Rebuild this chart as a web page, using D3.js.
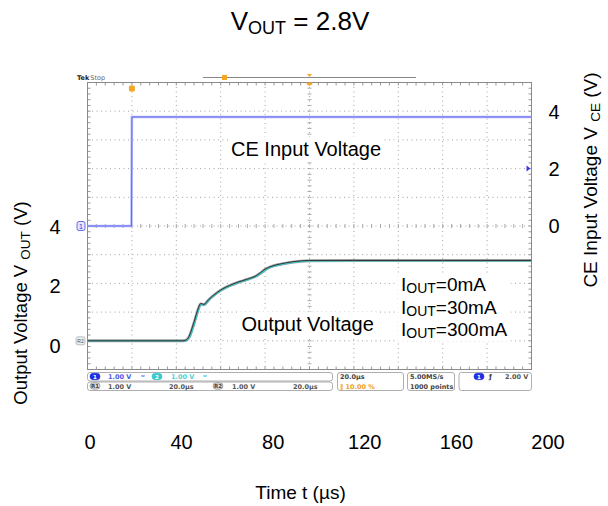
<!DOCTYPE html>
<html>
<head>
<meta charset="utf-8">
<script src="https://cdn.jsdelivr.net/npm/d3@7"></script>
<style>
    body { margin: 0; background: #fff; }
    svg { display: block; }
</style>
</head>
<body>
<svg id="chart" width="608" height="506"></svg>
<script>
// tick labels
const timeTicks = [0, 40, 80, 120, 160, 200];
const outTicks = [0, 2, 4];
const ceTicks = [0, 2, 4];

// CE input voltage trace (us, V)
const ceTime = [0, 19.8, 20, 200];
const ceVolt = [0, 0, 3.8, 3.8];

// output voltage traces (us, V)
const outTime = [0, 43, 44, 45, 46, 47, 48, 49, 50, 51, 52.5, 54.5, 57, 60, 64, 68, 72, 76, 78, 80, 83, 87, 92, 100, 120, 160, 200];
const out0mA = [0, 0, 0.02, 0.06, 0.2, 0.42, 0.66, 0.92, 1.16, 1.3, 1.27, 1.43, 1.6, 1.77, 1.93, 2.05, 2.15, 2.27, 2.38, 2.5, 2.6, 2.68, 2.75, 2.8, 2.8, 2.8, 2.8];
const out30mA = [0, 0, 0.01, 0.05, 0.17, 0.38, 0.62, 0.88, 1.13, 1.28, 1.26, 1.42, 1.59, 1.76, 1.92, 2.04, 2.14, 2.26, 2.36, 2.48, 2.59, 2.67, 2.74, 2.79, 2.8, 2.8, 2.8];
const out300mA = [0, 0, 0, 0.03, 0.13, 0.32, 0.56, 0.82, 1.08, 1.25, 1.25, 1.41, 1.58, 1.75, 1.91, 2.03, 2.13, 2.25, 2.34, 2.46, 2.58, 2.66, 2.73, 2.78, 2.79, 2.79, 2.79];

const legendLabels = ["=0mA", "=30mA", "=300mA"];

const FONT = "'Liberation Sans', Arial, sans-serif";
const svg = d3.select("#chart").style("font-family", FONT);

// scope screen scales (1 V/div on both channels)
const x = d3.scaleLinear().domain([0, 200]).range([87.5, 531.5]);
const yOut = d3.scaleLinear().domain([-1, 9]).range([369.5, 82.5]);
const yCe = d3.scaleLinear().domain([-5, 5]).range([369.5, 82.5]);

// scales for the outer axis labels (the figure's labels do not sit on the grid)
const xLab = d3.scaleLinear().domain([0, 200]).range([90, 548]);
const yOutLab = d3.scaleLinear().domain([0, 4]).range([345.5, 227.3]);
const yCeLab = d3.scaleLinear().domain([0, 4]).range([225.7, 111.7]);

// ---------- graticule ----------
const grid = svg.append("g");
const xDiv = d3.range(0, 201, 20);
const yDiv = d3.range(-1, 10, 1);
const xMinor = d3.range(0, 200.1, 4);
const yMinor = d3.range(-1, 9.01, 0.2);

grid.selectAll(".vg").data(xDiv.slice(1, -1)).enter().append("line")
    .attr("x1", d => x(d)).attr("x2", d => x(d))
    .attr("y1", yOut(9)).attr("y2", yOut(-1))
    .attr("stroke", "#a4a4a4").attr("stroke-dasharray", "1,3.5");
grid.selectAll(".hg").data(yDiv.slice(1, -1)).enter().append("line")
    .attr("x1", x(0)).attr("x2", x(200))
    .attr("y1", d => yOut(d)).attr("y2", d => yOut(d))
    .attr("stroke", "#a4a4a4").attr("stroke-dasharray", "1,3.5");

// center cross ticks
grid.selectAll(".cxt").data(xMinor).enter().append("line")
    .attr("x1", d => x(d)).attr("x2", d => x(d))
    .attr("y1", yOut(4) - 2).attr("y2", yOut(4) + 2)
    .attr("stroke", "#aaa");
grid.selectAll(".cyt").data(yMinor).enter().append("line")
    .attr("x1", x(100) - 2).attr("x2", x(100) + 2)
    .attr("y1", d => yOut(d)).attr("y2", d => yOut(d))
    .attr("stroke", "#aaa");

// border ticks
grid.selectAll(".bt").data(xMinor).enter().append("line")
    .attr("x1", d => x(d)).attr("x2", d => x(d))
    .attr("y1", yOut(9)).attr("y2", yOut(9) + 3).attr("stroke", "#999");
grid.selectAll(".bb").data(xMinor).enter().append("line")
    .attr("x1", d => x(d)).attr("x2", d => x(d))
    .attr("y1", yOut(-1)).attr("y2", yOut(-1) - 3).attr("stroke", "#999");
grid.selectAll(".bl").data(yMinor).enter().append("line")
    .attr("x1", x(0)).attr("x2", x(0) + 3)
    .attr("y1", d => yOut(d)).attr("y2", d => yOut(d)).attr("stroke", "#999");
grid.selectAll(".br").data(yMinor).enter().append("line")
    .attr("x1", x(200)).attr("x2", x(200) - 3)
    .attr("y1", d => yOut(d)).attr("y2", d => yOut(d)).attr("stroke", "#999");

grid.append("rect")
    .attr("x", x(0)).attr("y", yOut(9))
    .attr("width", x(200) - x(0)).attr("height", yOut(-1) - yOut(9))
    .attr("fill", "none").attr("stroke", "#8a8a8a");

// ---------- scope top decorations ----------
const topG = svg.append("g");
topG.append("text").attr("x", 77).attr("y", 80)
    .style("font-family", "'DejaVu Sans', sans-serif").style("font-size", "6.5px")
    .call(t => {
        t.append("tspan").attr("font-weight", "bold").attr("fill", "#222").text("Tek");
        t.append("tspan").attr("fill", "#666").attr("dx", 1).text("Stop");
    });
topG.append("line").attr("x1", 203).attr("x2", 416).attr("y1", 77.5).attr("y2", 77.5)
    .attr("stroke", "#888").attr("stroke-width", 1.2);
topG.append("rect").attr("x", 222).attr("y", 75).attr("width", 5).attr("height", 5)
    .attr("fill", "#f5a623");
topG.append("path").attr("d", `M${x(100) - 2.5},74 h5 l-2.5,3 z`).attr("fill", "#f5a623");
topG.append("path").attr("d", `M${x(100) - 3},82.5 a3,3 0 0 0 6,0 z`).attr("fill", "#f5a623");
topG.append("rect").attr("x", x(20) - 3).attr("y", 85.5).attr("width", 6).attr("height", 6)
    .attr("rx", 1.5).attr("fill", "#f5a623");

// channel markers
const ch1 = svg.append("g").attr("transform", `translate(81,${yCe(0)})`);
ch1.append("rect").attr("x", -4).attr("y", -4.5).attr("width", 8).attr("height", 9).attr("rx", 2)
    .attr("fill", "#e6e6ff").attr("stroke", "#4848e8").attr("stroke-width", 0.8);
ch1.append("text").attr("y", 2.5).attr("text-anchor", "middle")
    .style("font-size", "7px").attr("fill", "#3030d0").text("1");
const r2 = svg.append("g").attr("transform", `translate(81,${yOut(0)})`);
r2.append("rect").attr("x", -5).attr("y", -4).attr("width", 9).attr("height", 8).attr("rx", 2)
    .attr("fill", "#eee").attr("stroke", "#999").attr("stroke-width", 0.6);
r2.append("text").attr("y", 2).attr("x", -0.5).attr("text-anchor", "middle")
    .style("font-size", "5px").attr("fill", "#555").text("R2");
svg.append("path")
    .attr("d", `M${x(200) - 1},${yCe(2)} l-4,-3 v6 z`)
    .attr("fill", "#3a3ae8");

// ---------- traces ----------
const traces = svg.append("g");
const ceLine = d3.line().x(d => x(d[0])).y(d => yCe(d[1]));
const outLine = d3.line().x(d => x(d[0])).y(d => yOut(d[1])).curve(d3.curveMonotoneX);
const ceData = d3.zip(ceTime, ceVolt);

traces.append("path").datum(ceData).attr("d", ceLine)
    .attr("fill", "none").attr("stroke", "#b4b8ff").attr("stroke-width", 2.6);
traces.append("path").datum(ceData).attr("d", ceLine)
    .attr("fill", "none").attr("stroke", "#2a2ad8").attr("stroke-width", 1).attr("opacity", 0.55);

traces.append("path").datum(d3.zip(outTime, out30mA)).attr("d", outLine)
    .attr("fill", "none").attr("stroke", "#a0a0a0").attr("stroke-width", 3);
traces.append("path").datum(d3.zip(outTime, out300mA)).attr("d", outLine)
    .attr("fill", "none").attr("stroke", "#3cc6c6").attr("stroke-width", 1.6);
traces.append("path").datum(d3.zip(outTime, out0mA)).attr("d", outLine)
    .attr("fill", "none").attr("stroke", "#333").attr("stroke-width", 1);

// ---------- status bar ----------
const bar = svg.append("g").style("font-family", "'DejaVu Sans', sans-serif")
    .style("font-size", "6.5px").style("font-weight", "bold");
[[87.5, 372.5, 245, 8.5], [87.5, 382, 245, 8.5], [337.5, 372.5, 66, 18], [407.5, 372.5, 47, 18], [459, 372.5, 72.5, 18]]
    .forEach(b => bar.append("rect").attr("x", b[0]).attr("y", b[1]).attr("width", b[2]).attr("height", b[3])
        .attr("rx", 2.5).attr("fill", "#fff").attr("stroke", "#9a9a9a").attr("stroke-width", 0.8));
function pill(cx, cy, fill, stroke, label, color) {
    bar.append("rect").attr("x", cx - 5).attr("y", cy - 3.2).attr("width", 10).attr("height", 6.4).attr("rx", 3.2)
        .attr("fill", fill).attr("stroke", stroke).attr("stroke-width", 0.6);
    bar.append("text").attr("x", cx).attr("y", cy + 2.2).attr("text-anchor", "middle")
        .attr("fill", color).style("font-size", "5.5px").text(label);
}
function label(xp, yp, txt, color) {
    bar.append("text").attr("x", xp).attr("y", yp).attr("fill", color).text(txt);
}
pill(95, 376.5, "#1f2fe0", "#1f2fe0", "1", "#fff");
label(108, 379, "1.00 V", "#4a58e8");
label(141, 379, "\u02b7", "#7a84f0");
pill(157, 376.5, "#37c9cf", "#37c9cf", "2", "#fff");
label(171, 379, "1.00 V", "#4fd0d6");
label(203, 379, "\u02b7", "#4fd0d6");
pill(95, 386, "#ddd", "#777", "R1", "#444");
label(108, 388.5, "1.00 V", "#555");
label(169, 388.5, "20.0\u00b5s", "#555");
pill(218, 386, "#ddd", "#777", "R2", "#444");
label(232, 388.5, "1.00 V", "#555");
label(293, 388.5, "20.0\u00b5s", "#555");
label(340, 379, "20.0\u00b5s", "#444");
label(340, 388.5, "\u2016 10.00 %", "#f0a020");
label(410, 379, "5.00MS/s", "#444");
label(410, 388.5, "1000 points", "#444");
pill(479, 376.5, "#1f2fe0", "#1f2fe0", "1", "#fff");
label(489, 379, "\u0192", "#333");
label(505, 379, "2.00 V", "#555");

// ---------- annotations ----------
const ann = svg.append("g").style("font-size", "20px").attr("fill", "#000");
function note(xp, yp, build) {
    const g = ann.append("g");
    const bg = g.append("rect").attr("fill", "#fff");
    const t = g.append("text").attr("x", xp).attr("y", yp);
    build(t);
    const bb = t.node().getBBox();
    bg.attr("x", bb.x - 3).attr("y", bb.y - 1).attr("width", bb.width + 6).attr("height", bb.height + 2);
    return t;
}
note(231, 155.7, t => t.text("CE Input Voltage"));
note(241.5, 331, t => t.text("Output Voltage"));
const legG = ann.append("g");
const legBg = legG.append("rect").attr("fill", "#fff");
legendLabels.forEach((lab, i) => {
    const t = legG.append("text").attr("x", 401).attr("y", 291 + i * 22.5).style("font-size", "19px");
    t.append("tspan").text("I");
    t.append("tspan").attr("dy", 2).style("font-size", "14px").text("OUT");
    t.append("tspan").attr("dy", -2).text(lab);
});
const lbb = legG.node().getBBox();
legBg.attr("x", lbb.x - 3).attr("y", lbb.y).attr("width", lbb.width + 6).attr("height", lbb.height);

// ---------- outer axes ----------
const axes = svg.append("g").style("font-size", "20px").attr("fill", "#000");
axes.selectAll(".xt").data(timeTicks).enter().append("text")
    .attr("x", d => xLab(d)).attr("y", 449).attr("text-anchor", "middle").text(d => d);
axes.selectAll(".yl").data(outTicks).enter().append("text")
    .attr("x", 55).attr("y", d => yOutLab(d) + 7).attr("text-anchor", "middle").text(d => d);
axes.selectAll(".yr").data(ceTicks).enter().append("text")
    .attr("x", 554).attr("y", d => yCeLab(d) + 7).attr("text-anchor", "middle").text(d => d);

axes.append("text").attr("x", 300.5).attr("y", 499).attr("text-anchor", "middle")
    .style("font-size", "19px").text("Time t (\u00b5s)");

axes.append("text").attr("transform", "translate(27,303) rotate(-90)")
    .attr("text-anchor", "middle").style("font-size", "18.5px")
    .call(t => {
        t.append("tspan").text("Output Voltage V ");
        t.append("tspan").attr("dy", 3).style("font-size", "13.5px").text("OUT");
        t.append("tspan").attr("dy", -3).text(" (V)");
    });
axes.append("text").attr("transform", "translate(597,180) rotate(-90)")
    .attr("text-anchor", "middle").style("font-size", "19px")
    .call(t => {
        t.append("tspan").text("CE Input Voltage V ");
        t.append("tspan").attr("dy", 3).style("font-size", "13.5px").text("CE");
        t.append("tspan").attr("dy", -3).text(" (V)");
    });

// title
svg.append("text").attr("x", 300).attr("y", 30).attr("text-anchor", "middle")
    .style("font-size", "26px")
    .call(t => {
        t.append("tspan").text("V");
        t.append("tspan").attr("dy", 4).style("font-size", "18px").text("OUT");
        t.append("tspan").attr("dy", -4).text(" = 2.8V");
    });
</script>
</body>
</html>
